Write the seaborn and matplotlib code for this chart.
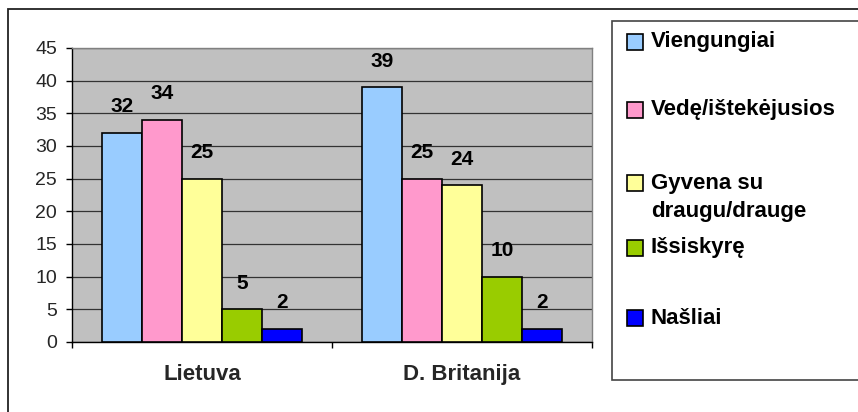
import matplotlib
matplotlib.use("Agg")
import matplotlib.pyplot as plt
import seaborn as sns
import pandas as pd
from matplotlib.patches import Rectangle

# Data
countries = ["Lietuva", "D. Britanija"]
groups = ["Viengungiai", "Vedę/ištekėjusios", "Gyvena su\ndraugu/drauge", "Išsiskyrę", "Našliai"]
lietuva = [32, 34, 25, 5, 2]
britanija = [39, 25, 24, 10, 2]
colors = ["#99CCFF", "#FF99CC", "#FFFF99", "#99CC00", "#0000FF"]
yticks = [0, 5, 10, 15, 20, 25, 30, 35, 40, 45]

df = pd.DataFrame({
    "country": [countries[0]] * len(groups) + [countries[1]] * len(groups),
    "group": groups * 2,
    "value": lietuva + britanija,
})

sns.set_theme(style="white")
plt.rcParams["font.family"] = ["Liberation Sans", "DejaVu Sans"]

W, H = 858, 412
fig = plt.figure(figsize=(W / 100, H / 100), dpi=100)
fig.patch.set_facecolor("white")


def fx(px):
    return px / W


def fy(py):
    return 1 - py / H


PT = 72 / 100  # points per pixel

ax = fig.add_axes([fx(72), fy(342), fx(592) - fx(72), fy(48) - fy(342)])
ax.set_facecolor("#C0C0C0")

sns.barplot(
    data=df, x="country", y="value", hue="group",
    order=countries, hue_order=groups, palette=colors,
    width=200 / 260, gap=0, saturation=1,
    edgecolor="black", linewidth=1.2, legend=False, ax=ax, zorder=3,
)

# Value labels above the bars
for cont in ax.containers:
    for bar, val in zip(cont, cont.datavalues):
        ax.annotate(
            f"{val:g}",
            xy=(bar.get_x() + bar.get_width() / 2, val),
            xytext=(0, 26 * PT), textcoords="offset points",
            ha="center", va="center", fontsize=15, fontweight="bold",
            color="black", zorder=5,
        )

ax.set_xlim(-0.5, 1.5)
ax.set_ylim(0, 45)
ax.set_yticks(yticks)
ax.set_xlabel("")
ax.set_ylabel("")
ax.set_axisbelow(True)
ax.yaxis.grid(True, color="#333333", linewidth=0.9)
ax.xaxis.grid(False)

for side in ("left", "bottom"):
    ax.spines[side].set_color("black")
    ax.spines[side].set_linewidth(1.0)
for side in ("top", "right"):
    ax.spines[side].set_color("#808080")
    ax.spines[side].set_linewidth(1.0)

ax.tick_params(axis="y", direction="out", length=6 * PT, width=1, color="black",
               labelsize=14, pad=9 * PT, left=True)
ax.set_xticks([0, 1])
ax.set_xticklabels(countries, fontsize=16, fontweight="bold")
ax.tick_params(axis="x", which="major", length=0, pad=22 * PT)
ax.set_xticks([-0.5, 0.5, 1.5], minor=True)
ax.tick_params(axis="x", which="minor", direction="out", length=6 * PT, width=1,
               color="black", bottom=True)

# Outer chart frame
fig.add_artist(Rectangle((fx(8), -0.2), 1.0, fy(9) + 0.2, transform=fig.transFigure,
                         fill=False, edgecolor="#222222", linewidth=1.3))

# Legend box
fig.add_artist(Rectangle((fx(612), fy(380)), 1.0, fy(21) - fy(380), transform=fig.transFigure,
                         facecolor="white", edgecolor="#444444", linewidth=1.2))

legend_rows = [41.5, 110, 183, 248, 318]
for name, color, yc in zip(groups, colors, legend_rows):
    fig.add_artist(Rectangle((fx(627), fy(yc + 8)), fx(16), 16 / H, transform=fig.transFigure,
                             facecolor=color, edgecolor="black", linewidth=1.2))
    for i, line in enumerate(name.split("\n")):
        fig.text(fx(651), fy(yc + i * 28), line, ha="left", va="center",
                 fontsize=16, fontweight="bold", color="black")

fig.savefig("out.png", dpi=100)
